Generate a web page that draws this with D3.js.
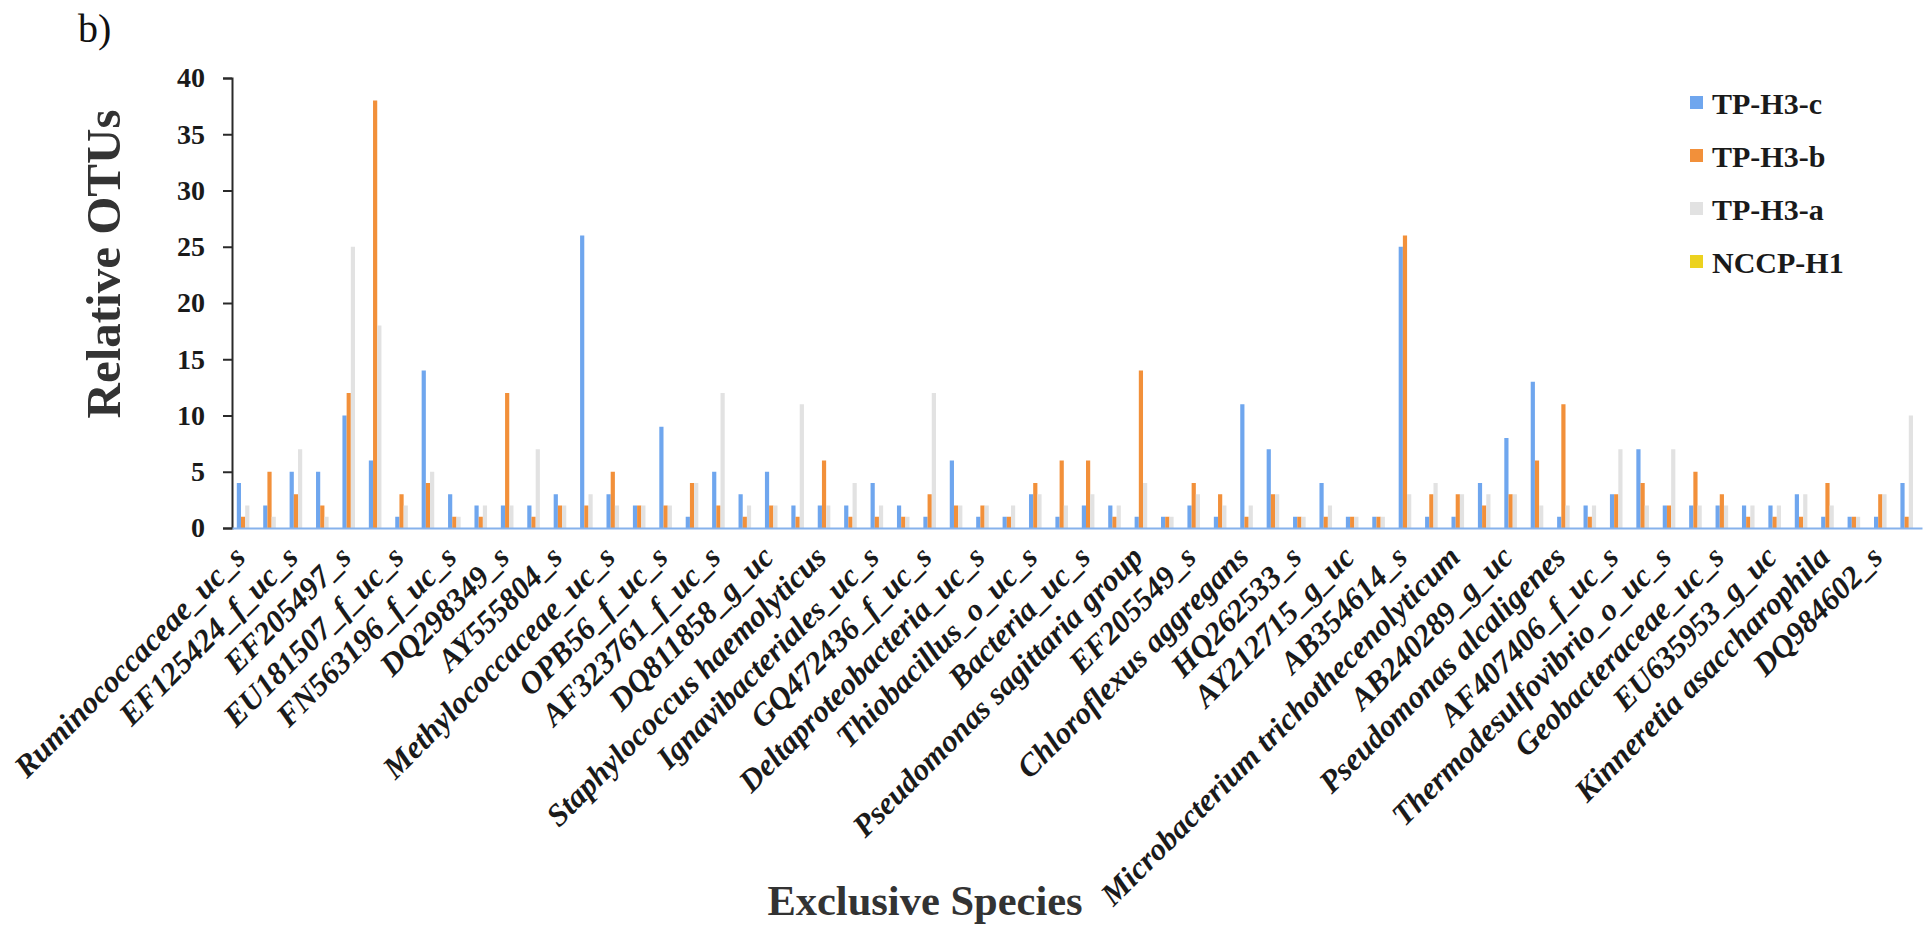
<!DOCTYPE html>
<html>
<head>
<meta charset="utf-8">
<script src="https://cdn.jsdelivr.net/npm/d3@7"></script>
<style>
  html, body { margin: 0; padding: 0; background: #fff; }
  svg { display: block; }
  text { font-family: "Liberation Serif", "Times New Roman", serif; }
</style>
</head>
<body>
<svg id="chart" width="1926" height="927"></svg>
<script>
// Species shown on the category axis (every second category carries a label)
const speciesLabels = [
  "Ruminococcaceae_uc_s", "EF125424_f_uc_s", "EF205497_s", "EU181507_f_uc_s",
  "FN563196_f_uc_s", "DQ298349_s", "AY555804_s", "Methylococcaceae_uc_s",
  "OPB56_f_uc_s", "AF323761_f_uc_s", "DQ811858_g_uc", "Staphylococcus haemolyticus",
  "Ignavibacteriales_uc_s", "GQ472436_f_uc_s", "Deltaproteobacteria_uc_s", "Thiobacillus_o_uc_s",
  "Bacteria_uc_s", "Pseudomonas sagittaria group", "EF205549_s", "Chloroflexus aggregans",
  "HQ262533_s", "AY212715_g_uc", "AB354614_s", "Microbacterium trichothecenolyticum",
  "AB240289_g_uc", "Pseudomonas alcaligenes", "AF407406_f_uc_s", "Thermodesulfovibrio_o_uc_s",
  "Geobacteraceae_uc_s", "EU635953_g_uc", "Kinneretia asaccharophila", "DQ984602_s"
];

const seriesNames = ["TP-H3-c", "TP-H3-b", "TP-H3-a", "NCCP-H1"];

// Relative OTUs per exclusive species, one value per category (64 categories)
const tpH3c = [4, 2, 5, 5, 10, 6, 1, 14, 3, 2, 2, 2, 3, 26, 3, 2,
               9, 1, 5, 3, 5, 2, 2, 2, 4, 2, 1, 6, 1, 1, 3, 1,
               2, 2, 1, 1, 2, 1, 11, 7, 1, 4, 1, 1, 25, 1, 1, 4,
               8, 13, 1, 2, 3, 7, 2, 2, 2, 2, 2, 3, 1, 1, 1, 4];
const tpH3b = [1, 5, 3, 2, 12, 38, 3, 4, 1, 1, 12, 1, 2, 2, 5, 2,
               2, 4, 2, 1, 2, 1, 6, 1, 1, 1, 3, 2, 2, 1, 4, 6,
               6, 1, 14, 1, 4, 3, 1, 3, 1, 1, 1, 1, 26, 3, 3, 2,
               3, 6, 11, 1, 3, 4, 2, 5, 3, 1, 1, 1, 4, 1, 3, 1];
const tpH3a = [2, 1, 7, 1, 25, 18, 2, 5, 1, 2, 2, 7, 2, 3, 2, 2,
               2, 4, 12, 2, 2, 11, 2, 4, 2, 1, 12, 2, 2, 2, 3, 2,
               3, 2, 4, 1, 3, 2, 2, 3, 1, 2, 1, 1, 3, 4, 3, 3,
               3, 2, 2, 2, 7, 2, 7, 2, 2, 2, 2, 3, 2, 1, 3, 10];
const nccpH1 = [0, 0, 0, 0, 0, 0, 0, 0, 0, 0, 0, 0, 0, 0, 0, 0,
                0, 0, 0, 0, 0, 0, 0, 0, 0, 0, 0, 0, 0, 0, 0, 0,
                0, 0, 0, 0, 0, 0, 0, 0, 0, 0, 0, 0, 0, 0, 0, 0,
                0, 0, 0, 0, 0, 0, 0, 0, 0, 0, 0, 0, 0, 0, 0, 0];

const yTicks = [0, 5, 10, 15, 20, 25, 30, 35, 40];

const seriesValues = [tpH3c, tpH3b, tpH3a, nccpH1];
const seriesColors = ["#6fa6ee", "#f2903a", "#e2e2e2", "#ecd21f"];

const svg = d3.select("#chart");
svg.append("rect").attr("width", 1926).attr("height", 927).attr("fill", "#fff");

const plot = { left: 232, right: 1922, top: 78, bottom: 528 };
const categoryIndex = d3.range(tpH3c.length);

const x = d3.scaleBand()
  .domain(categoryIndex)
  .range([plot.left, plot.right])
  .paddingInner(0.364)
  .paddingOuter(0.182);

const xSeries = d3.scaleBand()
  .domain(seriesNames)
  .range([0, x.bandwidth()]);

const y = d3.scaleLinear().domain([0, 40]).range([plot.bottom, plot.top]);

// Bars
const rows = categoryIndex.map(i => ({
  i,
  values: seriesNames.map((name, s) => ({ name, s, v: seriesValues[s][i] }))
}));

const groups = svg.append("g").attr("class", "bars")
  .selectAll("g")
  .data(rows)
  .join("g")
  .attr("transform", d => `translate(${x(d.i)},0)`);

groups.selectAll("rect")
  .data(d => d.values.filter(e => e.v > 0))
  .join("rect")
  .attr("x", e => xSeries(e.name))
  .attr("width", xSeries.bandwidth())
  .attr("y", e => y(e.v))
  .attr("height", e => y(0) - y(e.v))
  .attr("fill", e => seriesColors[e.s]);

// Y axis
const yAxis = svg.append("g")
  .attr("transform", `translate(${plot.left},0)`)
  .call(d3.axisLeft(y).tickValues(yTicks).tickSize(9).tickPadding(18));
yAxis.select(".domain").attr("stroke", "#2a2a2a").attr("stroke-width", 2);
yAxis.selectAll(".tick line").attr("stroke", "#2a2a2a").attr("stroke-width", 2);
yAxis.selectAll(".tick text")
  .attr("fill", "#1a1a1a")
  .style("font-family", "'Liberation Serif', serif")
  .style("font-size", "28px")
  .style("font-weight", "bold");

// X axis with rotated species names
const xAxis = svg.append("g")
  .attr("transform", `translate(0,${plot.bottom})`)
  .call(d3.axisBottom(x)
    .tickValues(categoryIndex.filter(i => i % 2 === 0))
    .tickFormat(i => speciesLabels[i / 2])
    .tickSize(0)
    .tickPadding(0));
xAxis.select(".domain").attr("stroke", "#86b2ec").attr("stroke-width", 2);
xAxis.selectAll(".tick text")
  .attr("fill", "#1a1a1a")
  .attr("text-anchor", "end")
  .attr("dy", 0)
  .attr("transform", "translate(2,31) rotate(-45)")
  .style("font-family", "'Liberation Serif', serif")
  .style("font-size", "31.5px")
  .style("font-weight", "bold")
  .style("font-style", "italic");

// Axis titles
svg.append("text")
  .attr("transform", "translate(120,264) rotate(-90)")
  .attr("text-anchor", "middle")
  .attr("fill", "#333")
  .style("font-size", "49px")
  .style("font-weight", "bold")
  .text("Relative OTUs");

svg.append("text")
  .attr("x", 925)
  .attr("y", 915)
  .attr("text-anchor", "middle")
  .attr("fill", "#333")
  .style("font-size", "42.5px")
  .style("font-weight", "bold")
  .text("Exclusive Species");

// Panel tag
svg.append("text")
  .attr("x", 78)
  .attr("y", 42)
  .attr("fill", "#111")
  .style("font-size", "40px")
  .text("b)");

// Legend
const legend = svg.append("g").attr("transform", "translate(1690,103)");
const legendItems = legend.selectAll("g")
  .data(seriesNames)
  .join("g")
  .attr("transform", (d, i) => `translate(0,${i * 53})`);
legendItems.append("rect")
  .attr("x", 0).attr("y", -7)
  .attr("width", 13).attr("height", 13)
  .attr("fill", (d, i) => seriesColors[i]);
legendItems.append("text")
  .attr("x", 22)
  .attr("y", 0)
  .attr("dy", "0.35em")
  .attr("fill", "#1a1a1a")
  .style("font-size", "30px")
  .style("font-weight", "bold")
  .text(d => d);
</script>
</body>
</html>
